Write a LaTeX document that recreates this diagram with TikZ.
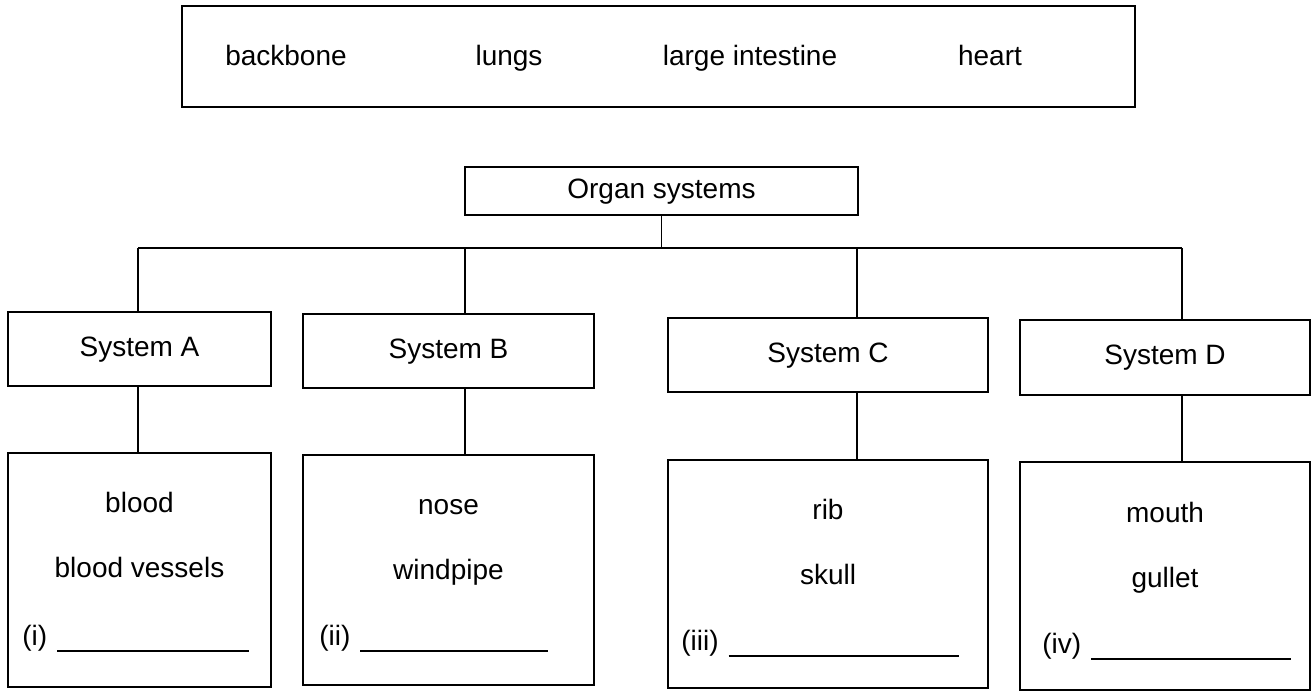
\documentclass[tikz,border=0pt]{standalone}
\usepackage{fontspec}
\setmainfont{Liberation Sans}
\usetikzlibrary{positioning}
\tikzset{
    box/.style={draw, line width=0.8pt, inner sep=0pt, text height=10pt, text depth=3pt,
        font=\fontsize{14}{16}\selectfont},
    word/.style={inner sep=0pt, text height=10pt, text depth=3pt, font=\fontsize{14}{16}\selectfont},
    blank/.style={word, anchor=west},
    link/.style={line width=0.8pt}
}
% label followed by a line to write on
\newcommand{\answerline}[2]{#1\hspace{5pt}\rule[-3.5pt]{#2}{0.8pt}}

\begin{document}
\begin{tikzpicture}[x=0.5pt, y=-0.5pt]
    \useasboundingbox (0,0) rectangle (1315,692);
    % word bank
    \node[box, minimum width=476.5pt, minimum height=50.5pt] (bank) at (658.5,56.5) {};
    \node[word] (backbone) at (286,58) {backbone};
    \node[word] (lungs) at (509,58) {lungs};
    \node[word] (intestine) at (750,58) {large intestine};
    \node[word] (heart) at (990,58) {heart};
    % root and systems
    \node[box, minimum width=196.5pt, minimum height=24pt] (organs) at (661.5,191) {Organ systems};
    \node[box, minimum width=131.5pt, minimum height=37pt] (sysA) at (139.5,349) {System A};
    \node[box, minimum width=145.5pt, minimum height=37pt] (sysB) at (448.5,351) {System B};
    \node[box, minimum width=160pt, minimum height=37pt] (sysC) at (828,355) {System C};
    \node[box, minimum width=145pt, minimum height=37.5pt] (sysD) at (1165,357.5) {System D};
    % organ lists
    \node[box, minimum width=131.5pt, minimum height=117pt] (leafA) at (139.5,570) {};
    \node[box, minimum width=145.5pt, minimum height=115pt] (leafB) at (448.5,570) {};
    \node[box, minimum width=160pt, minimum height=114pt] (leafC) at (828,574) {};
    \node[box, minimum width=145pt, minimum height=114pt] (leafD) at (1165,576) {};
    \node[word] (blood) at (139.5,505) {blood};
    \node[word] (vessels) at (139.5,570) {blood vessels};
    \node[blank] (ansA) at (22,638) {\answerline{(i)}{96pt}};
    \node[word] (nose) at (448.5,507) {nose};
    \node[word] (windpipe) at (448.5,572) {windpipe};
    \node[blank] (ansB) at (319,638) {\answerline{(ii)}{94pt}};
    \node[word] (rib) at (828,512) {rib};
    \node[word] (skull) at (828,577) {skull};
    \node[blank] (ansC) at (681,643) {\answerline{(iii)}{115pt}};
    \node[word] (mouth) at (1165,515) {mouth};
    \node[word] (gullet) at (1165,580) {gullet};
    \node[blank] (ansD) at (1042,646) {\answerline{(iv)}{100pt}};
    % branch points on the bus
    \coordinate (jA) at (138,248);
    \coordinate (jB) at (465,248);
    \coordinate (jC) at (857,248);
    \coordinate (jD) at (1182,248);
    \draw[link] (organs.south) -- (organs.south |- jA);
    \draw[link] (jA) -- (jD);
    \foreach \s in {A,B,C,D}{
        \draw[link] (j\s) -- (j\s |- sys\s.north);
        \draw[link] (j\s |- sys\s.south) -- (j\s |- leaf\s.north);
    }
\end{tikzpicture}
\end{document}
